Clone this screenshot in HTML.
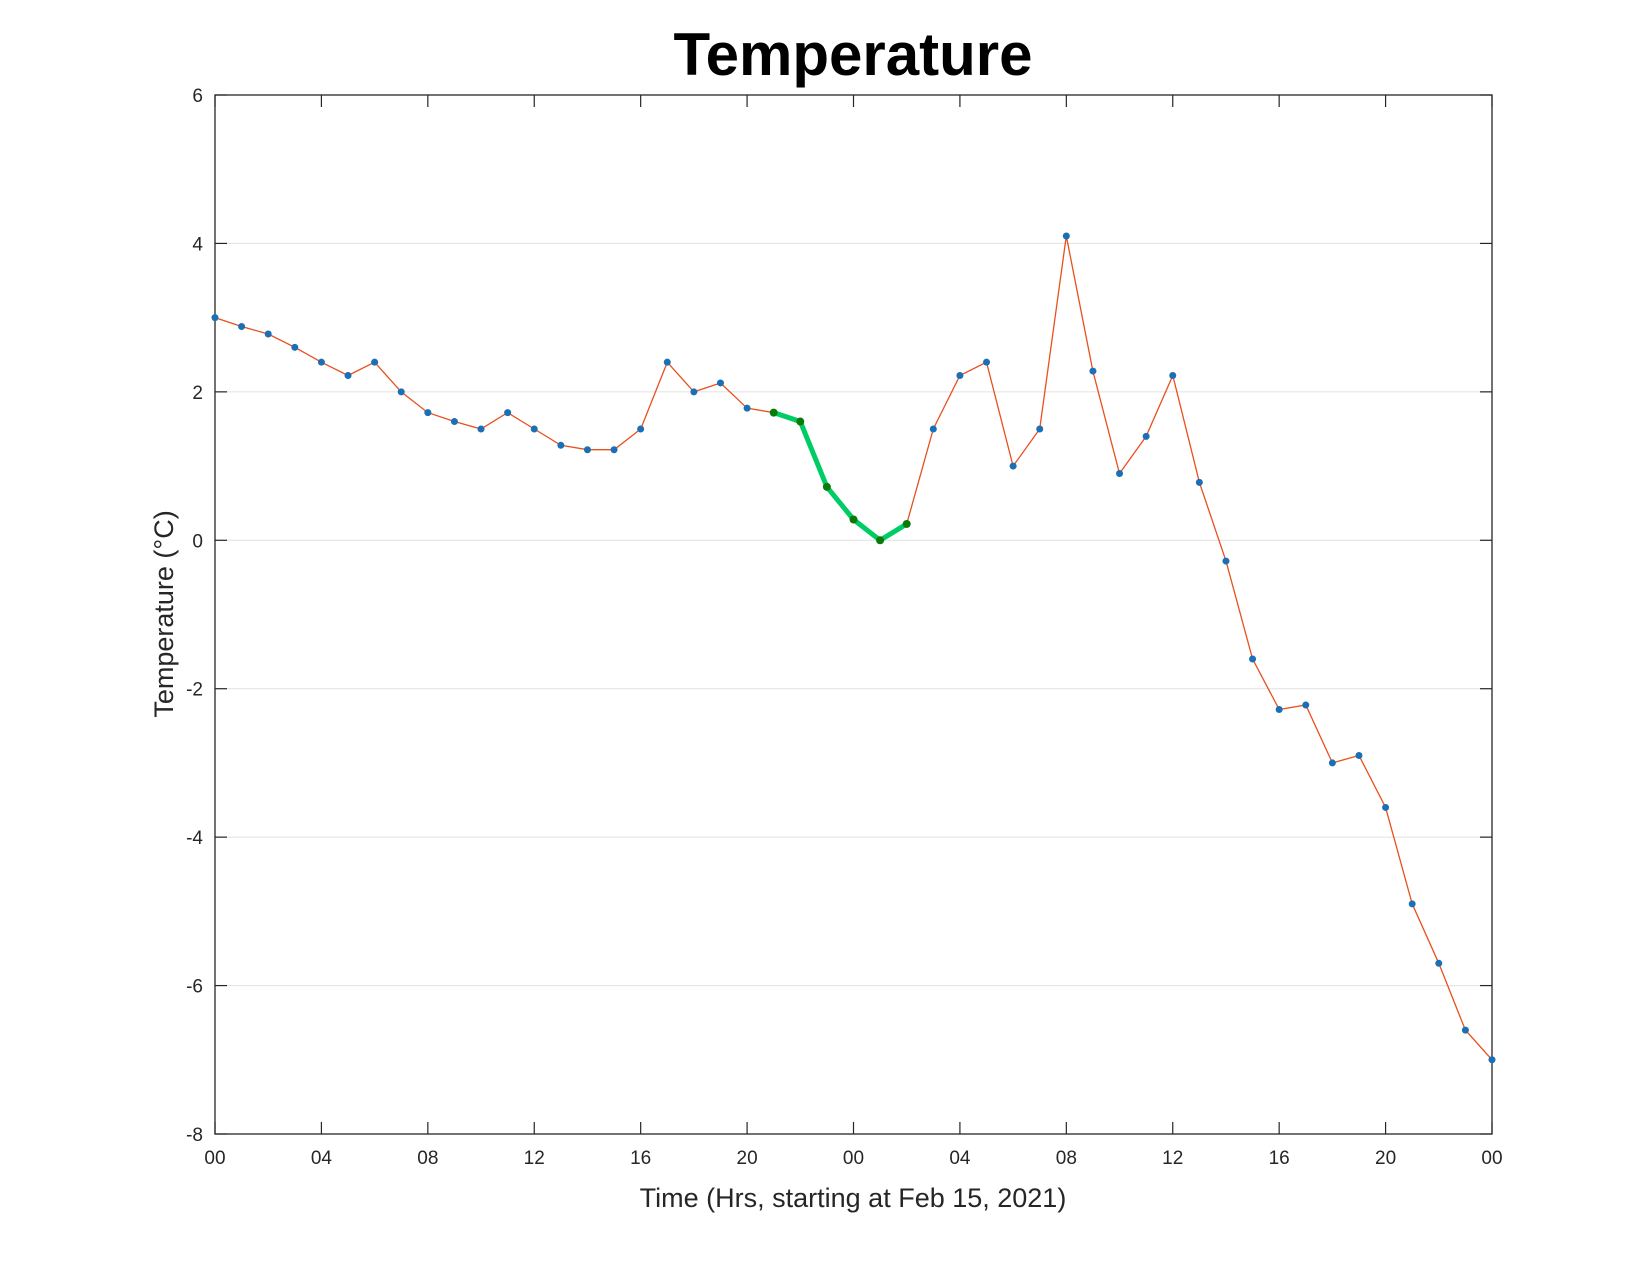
<!DOCTYPE html>
<html><head><meta charset="utf-8"><style>
html,body{margin:0;padding:0;background:#fff;}
svg{display:block;font-family:"Liberation Sans",Arial,sans-serif;}
</style></head><body>
<svg id="chart" width="1650" height="1275" xmlns="http://www.w3.org/2000/svg">
<rect width="1650" height="1275" fill="#fff"/>
<text x="853" y="75" text-anchor="middle" font-size="60" font-weight="bold" fill="#000">Temperature</text>
<g id="grid"></g>
<g id="axes"></g>
<g id="series"></g>
<text x="853" y="1207" text-anchor="middle" font-size="27" fill="#262626">Time (Hrs, starting at Feb 15, 2021)</text>
<text transform="translate(173,614) rotate(-90)" text-anchor="middle" font-size="27" fill="#262626">Temperature (°C)</text>
</svg>
<script>
const hours = [0,1,2,3,4,5,6,7,8,9,10,11,12,13,14,15,16,17,18,19,20,21,22,23,24,25,26,27,28,29,30,31,32,33,34,35,36,37,38,39,40,41,42,43,44,45,46,47,48];
const temps = [3.0,2.88,2.78,2.6,2.4,2.22,2.4,2.0,1.72,1.6,1.5,1.72,1.5,1.28,1.22,1.22,1.5,2.4,2.0,2.12,1.78,1.72,1.6,0.72,0.28,0.0,0.22,1.5,2.22,2.4,1.0,1.5,4.1,2.28,0.9,1.4,2.22,0.78,-0.28,-1.6,-2.28,-2.22,-3.0,-2.9,-3.6,-4.9,-5.7,-6.6,-7.0];
const highlightStart = 21;
const highlightEnd = 26;
const yTicks = [-8,-6,-4,-2,0,2,4,6];
const xTickHours = [0,4,8,12,16,20,24,28,32,36,40,44,48];
const xTickLabels = ["00","04","08","12","16","20","00","04","08","12","16","20","00"];

const L=215,R=1492,T=95,B=1134;
const X=h=>L+(h-0)/(48-0)*(R-L);
const Y=v=>B-(v-(-8))/(14)*(B-T);
const NS="http://www.w3.org/2000/svg";
function mk(tag,attrs,parent){const e=document.createElementNS(NS,tag);for(const k in attrs)e.setAttribute(k,attrs[k]);parent.appendChild(e);return e;}
const grid=document.getElementById('grid'),axes=document.getElementById('axes'),series=document.getElementById('series');

yTicks.forEach(v=>{
  if(v>-8&&v<6){
    const g=mk('line',{x1:L,x2:R,y1:Y(v),y2:Y(v),stroke:'#e0e0e0','stroke-width':1},grid);
    
    
  }
  const t=mk('text',{x:L-12,y:Y(v)+7,'text-anchor':'end','font-size':19,fill:'#262626'},axes);
  t.textContent=v;
  
  
  mk('line',{x1:L,x2:L+12,y1:Y(v),y2:Y(v),stroke:'#262626','stroke-width':1.2},axes);
  mk('line',{x1:R,x2:R-12,y1:Y(v),y2:Y(v),stroke:'#262626','stroke-width':1.2},axes);
});
xTickHours.forEach((h,i)=>{
  const t=mk('text',{x:X(h),y:B+30,'text-anchor':'middle','font-size':19,fill:'#262626'},axes);
  t.textContent=xTickLabels[i];
  
  
  mk('line',{x1:X(h),x2:X(h),y1:B,y2:B-12,stroke:'#262626','stroke-width':1.2},axes);
  mk('line',{x1:X(h),x2:X(h),y1:T,y2:T+12,stroke:'#262626','stroke-width':1.2},axes);
});
const box=mk('rect',{x:L,y:T,width:R-L,height:B-T,fill:'none',stroke:'#262626','stroke-width':1.3},axes);



const pts=hours.map((h,i)=>X(h).toFixed(1)+','+Y(temps[i]).toFixed(1));
const line=mk('polyline',{points:pts.join(' '),fill:'none',stroke:'#e8501e','stroke-width':1.3},series);


const hp=pts.slice(highlightStart,highlightEnd+1);
const hl=mk('polyline',{points:hp.join(' '),fill:'none',stroke:'#00cc66','stroke-width':5,'stroke-linejoin':'round'},series);


hours.forEach((h,i)=>{
  const hi=i>=highlightStart&&i<=highlightEnd;
  const c=mk('circle',{cx:X(h),cy:Y(temps[i]),r:hi?4:3.5,fill:hi?'#0b7a0b':'#1a6fb5'},series);
  
  
});
</script>
</body></html>
